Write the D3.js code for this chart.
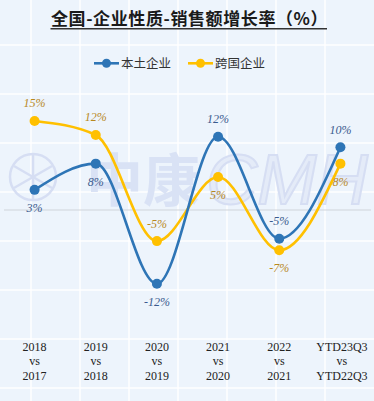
<!DOCTYPE html>
<html lang="zh">
<head>
  <meta charset="UTF-8" />
  <title>全国-企业性质-销售额增长率</title>
  <style>
    html, body { margin: 0; padding: 0; background: #edf4fc; }
    svg { display: block; }
  </style>
</head>
<body>
  <svg width="374" height="401"></svg>
  <script src="https://d3js.org/d3.v7.min.js"></script>
  <script>
    // data
    const categories = [
      ["2018", "vs", "2017"],
      ["2019", "vs", "2018"],
      ["2020", "vs", "2019"],
      ["2021", "vs", "2020"],
      ["2022", "vs", "2021"],
      ["YTD23Q3", "vs", "YTD22Q3"]
    ];
    const localValues = [3.3, 7.6, -12.1, 12.0, -4.7, 10.3];
    const localLabels = ["3%", "8%", "-12%", "12%", "-5%", "10%"];
    const localLabelPos = ["below", "below", "below", "above", "above", "above"];
    const mncValues = [14.6, 12.3, -5.1, 5.4, -6.6, 7.6];
    const mncLabels = ["15%", "12%", "-5%", "5%", "-7%", "8%"];
    const mncLabelPos = ["above", "above", "above", "below", "below", "below"];
    const seriesNames = ["本土企业", "跨国企业"];

    const W = 374, H = 401;
    const svg = d3.select("svg");

    // faint grid background
    const bg = svg.append("g");
    bg.append("rect").attr("width", W).attr("height", H).attr("fill", "#edf4fc");
    bg.selectAll("line.v").data(d3.range(31, W, 49)).join("line")
      .attr("x1", d => d).attr("x2", d => d).attr("y1", 0).attr("y2", H)
      .attr("stroke", "#fff").attr("stroke-opacity", 0.7).attr("stroke-width", 2);
    bg.selectAll("line.h").data(d3.range(45, H, 49)).join("line")
      .attr("y1", d => d).attr("y2", d => d).attr("x1", 0).attr("x2", W)
      .attr("stroke", "#fff").attr("stroke-opacity", 0.7).attr("stroke-width", 2);

    // watermark
    const wm = svg.append("g").attr("fill", "none").attr("stroke", "#d6def3").attr("stroke-width", 2.5);
    wm.append("circle").attr("cx", 33).attr("cy", 177).attr("r", 23);
    d3.range(6).forEach(i => {
      const a = i * Math.PI / 3 - Math.PI / 2;
      wm.append("line").attr("x1", 33).attr("y1", 177)
        .attr("x2", 33 + 22 * Math.cos(a)).attr("y2", 177 + 22 * Math.sin(a));
    });
    svg.append("text").attr("x", 86).attr("y", 201)
      .attr("font-family", "Noto Sans CJK SC").attr("font-weight", "bold")
      .attr("font-size", 57).attr("fill", "#d9e2f5").text("中康");
    svg.append("text").attr("x", 206).attr("y", 204)
      .attr("font-family", "Liberation Sans").attr("font-style", "italic")
      .attr("font-size", 70).attr("fill", "#e4ebf8").attr("stroke", "#d6def3").attr("stroke-width", 2)
      .attr("textLength", 162).attr("lengthAdjust", "spacingAndGlyphs")
      .text("CMH");

    const x = d3.scalePoint().domain(d3.range(categories.length)).range([4, 371]).padding(0.5);
    const y = d3.scaleLinear().domain([-15, 20]).range([301.5, 88]);

    // zero line
    svg.append("line")
      .attr("x1", 4).attr("x2", 371).attr("y1", y(0)).attr("y2", y(0))
      .attr("stroke", "#d0d4da").attr("stroke-width", 1.2);

    const series = [
      { name: seriesNames[0], values: localValues, labels: localLabels, pos: localLabelPos, color: "#2e75b6", text: "#3a5a8e" },
      { name: seriesNames[1], values: mncValues, labels: mncLabels, pos: mncLabelPos, color: "#ffc000", text: "#b8891e" }
    ];

    const line = d3.line().x((d, i) => x(i)).y(d => y(d)).curve(d3.curveMonotoneX);

    // draw yellow first so blue sits on top
    [series[1], series[0]].forEach(s => {
      svg.append("path").datum(s.values)
        .attr("d", line).attr("fill", "none")
        .attr("stroke", s.color).attr("stroke-width", 2.6);
      svg.append("g").selectAll("circle").data(s.values).join("circle")
        .attr("cx", (d, i) => x(i)).attr("cy", d => y(d)).attr("r", 5)
        .attr("fill", s.color);
    });

    series.forEach(s => {
      svg.append("g").selectAll("text").data(s.values).join("text")
        .attr("x", (d, i) => x(i))
        .attr("y", (d, i) => y(d) + (s.pos[i] === "above" ? -13.5 : 22))
        .attr("text-anchor", "middle")
        .attr("font-family", "Liberation Serif").attr("font-style", "italic")
        .attr("font-size", 12).attr("fill", s.text)
        .text((d, i) => s.labels[i]);
    });

    // x axis labels
    const xl = svg.append("g").attr("font-family", "Liberation Serif").attr("font-size", 12)
      .attr("fill", "#222").attr("text-anchor", "middle");
    categories.forEach((c, i) => {
      const t = xl.append("text").attr("x", x(i) + (i === 5 ? 1.5 : 0));
      c.forEach((s, k) => t.append("tspan").attr("x", x(i) + (i === 5 ? 1.5 : 0))
        .attr("y", 350.5 + k * 14.6).text(s));
    });

    // legend
    const lg = svg.append("g").attr("font-family", "Noto Sans CJK SC").attr("font-size", 12.5).attr("fill", "#333");
    [[94, series[0]], [188, series[1]]].forEach(([lx, s]) => {
      lg.append("line").attr("x1", lx).attr("x2", lx + 25).attr("y1", 63.3).attr("y2", 63.3)
        .attr("stroke", s.color).attr("stroke-width", 2.6);
      lg.append("circle").attr("cx", lx + 12.5).attr("cy", 63.3).attr("r", 4.5).attr("fill", s.color);
      lg.append("text").attr("x", lx + 27).attr("y", 67.8).text(s.name);
    });

    // title
    svg.append("text").attr("x", 51).attr("y", 24.5)
      .attr("font-family", "Noto Sans CJK SC").attr("font-weight", "bold")
      .attr("font-size", 17).attr("letter-spacing", 0.6).attr("fill", "#1a1a1a")
      .text("全国-企业性质-销售额增长率（%）");
    svg.append("line").attr("x1", 50.5).attr("x2", 327).attr("y1", 28.8).attr("y2", 28.8)
      .attr("stroke", "#333").attr("stroke-width", 1.4);
  </script>
</body>
</html>
